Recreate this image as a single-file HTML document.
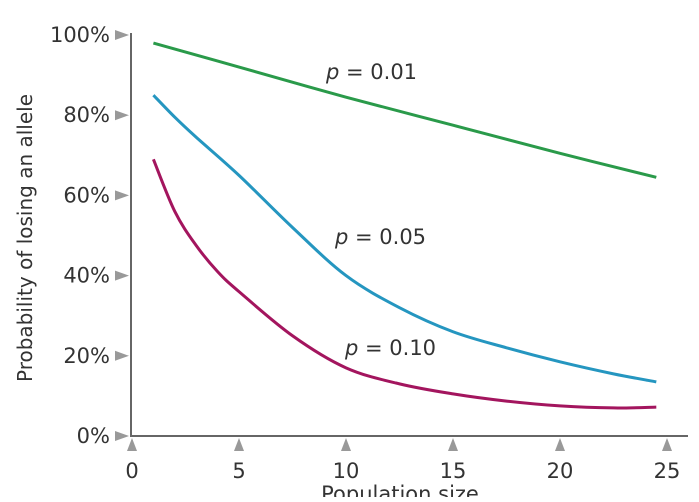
<!DOCTYPE html>
<html><head><meta charset="utf-8"><style>
body{margin:0;background:#fff;}
svg text{font-family:"DejaVu Sans","Liberation Sans",sans-serif;fill:#333;}
</style></head><body>
<svg id="c" width="699" height="497" viewBox="0 0 699 497">
</svg>
<script>
const xTicks=[0,5,10,15,20,25];
const yTicks=[0,20,40,60,80,100];
const seriesNames=["p = 0.01","p = 0.05","p = 0.10"];
const xs01=[1,5,10,15,20,24.5];
const ys01=[98,92,84.5,77.5,70.5,64.5];
const xs05=[1,2,3,5,7.5,10,12.5,15,17.5,20,22.5,24.5];
const ys05=[85,79.5,74.5,65,52,40,32,26,22,18.5,15.5,13.5];
const xs10=[1,2,3,4,5,7.5,10,12.5,15,17.5,20,22.5,24.5];
const ys10=[69,56,47.5,41,36,25,17,13,10.5,8.7,7.5,7,7.2];
const colors=["#2a9a4a","#2596c0","#a3155e"];
const NS="http://www.w3.org/2000/svg";
const svg=document.getElementById('c');
const X=v=>132+v*21.4, Y=v=>436-v*4.01;
function mk(t,a){const e=document.createElementNS(NS,t);for(const k in a)e.setAttribute(k,a[k]);svg.appendChild(e);return e;}
let ax=mk('path',{d:`M131,${Y(100)-2}V436H688`,stroke:'#666','stroke-width':2,fill:'none'});


yTicks.forEach(v=>{
 const m=mk('path',{d:`M115,${Y(v)-5}L129,${Y(v)}L115,${Y(v)+5}Z`,fill:'#999'});
 
 
 const t=mk('text',{x:110,y:Y(v)+7,'text-anchor':'end','font-size':21});
 t.textContent=v+'%';
 
 
});
xTicks.forEach(v=>{
 const m=mk('path',{d:`M${X(v)-5},451L${X(v)},438L${X(v)+5},451Z`,fill:'#999'});
 
 
 const t=mk('text',{x:X(v),y:478,'text-anchor':'middle','font-size':21});
 t.textContent=v;
 
 
});
function curve(xs,ys){
 const p=xs.map((x,i)=>[X(x),Y(ys[i])]);
 let d=`M${p[0][0]},${p[0][1]}`;
 for(let i=0;i<p.length-1;i++){
  const p0=p[i-1]||p[i],p1=p[i],p2=p[i+1],p3=p[i+2]||p2;
  d+=`C${p1[0]+(p2[0]-p0[0])/6},${p1[1]+(p2[1]-p0[1])/6} ${p2[0]-(p3[0]-p1[0])/6},${p2[1]-(p3[1]-p1[1])/6} ${p2[0]},${p2[1]}`;
 }
 return d;
}
[[xs01,ys01],[xs05,ys05],[xs10,ys10]].forEach((s,i)=>{
 const l=mk('path',{d:curve(s[0],s[1]),stroke:colors[i],'stroke-width':3,fill:'none'});
 
 
});
const lab=[[326,79],[335,244],[345,355]];
seriesNames.forEach((n,i)=>{
 const t=mk('text',{x:lab[i][0],y:lab[i][1],'font-size':21});
 t.innerHTML='<tspan font-style="italic">p</tspan>'+n.slice(1);
 
 
});
const yt=mk('text',{x:0,y:0,'font-size':20,'text-anchor':'middle',transform:'translate(32,238) rotate(-90)'});
yt.textContent='Probability of losing an allele';


const xt=mk('text',{x:400,y:501,'font-size':21,'text-anchor':'middle'});
xt.textContent='Population size';


</script>
</body></html>
